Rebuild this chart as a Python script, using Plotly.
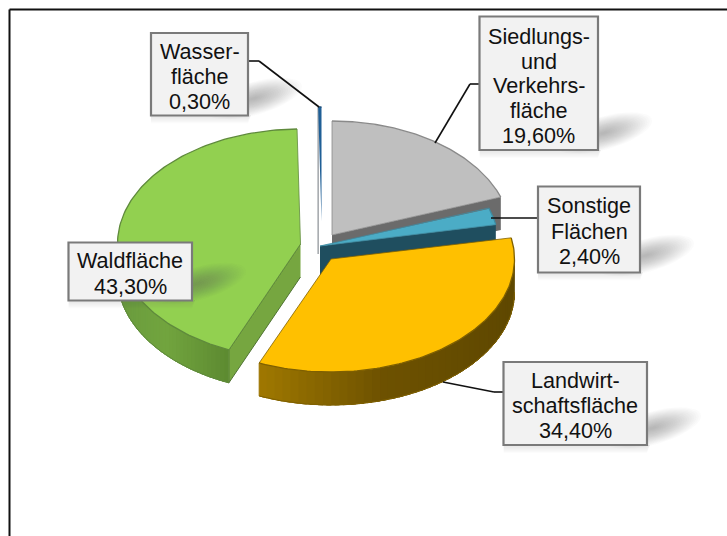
import numpy as np
import plotly.graph_objects as go

# ---- data ----
categories = ["Siedlungs- und Verkehrsfläche", "Sonstige Flächen", "Landwirtschaftsfläche", "Waldfläche", "Wasserfläche"]
values = [19.6, 2.4, 34.4, 43.3, 0.3]
label_lines = [
    ["Siedlungs-", "und", "Verkehrs-", "fläche", "19,60%"],
    ["Sonstige", "Flächen", "2,40%"],
    ["Landwirt-", "schaftsfläche", "34,40%"],
    ["Waldfläche", "43,30%"],
    ["Wasser-", "fläche", "0,30%"],
]

# ---- geometry / style ----
W, H = 727, 536
DEPTH = 33
centers = [(332, 235), (320, 246), (331, 259), (300.5, 244), (321.5, 221)]
radii = [(179, 114), (179, 114), (183.5, 113), (183, 115), (179, 114)]
top_col = ["#BFBFBF", "#4BACC6", "#FFC000", "#92D050", "#1F5F96"]
rim_col = ["#8A8A8A", "#3E8CA2", "#7F6000", "#5F8A3C", "#1F4E79"]
cut_col = ["#6B6B6B", "#1F4E5F", None, "#76A640", "#777777"]
wall_stops = {
    2: [(259, "#A07800"), (300, "#8E6B00"), (380, "#6E5200"), (514, "#5F4800")],
    3: [(116, "#6A9B3E"), (165, "#72A53F"), (228, "#5D8A31")],
}
boxes = [(479.5, 16.5, 598, 150), (538, 186.5, 640, 272.5), (503.5, 362, 647, 445),
         (68.5, 242.5, 192, 300.5), (151, 33, 248, 115.5)]
line_gap = [24.7, 25.5, 25, 26, 25]
text_cy = [85.8, 231, 405, 273, 76.5]
leaders = [
    [(479, 84), (470, 84), (435, 143)],
    [(538, 218), (491, 218)],
    [(503, 392), (494, 392), (443, 382)],
    [(248, 61), (259, 61), (319, 107)],
]
TEXT = "#111111"

cum = np.concatenate([[0], np.cumsum(values)]) / np.sum(values) * 2 * np.pi


def rim(i, a, b, n=120):
    t = np.linspace(a, b, n)
    cx, cy = centers[i]
    rx, ry = radii[i]
    return cx + rx * np.sin(t), cy - ry * np.cos(t)


def hexmix(stops, x):
    xs = [s[0] for s in stops]
    rgb = [[int(s[1][k:k + 2], 16) for k in (1, 3, 5)] for s in stops]
    return "rgb(%d,%d,%d)" % tuple(np.interp(x, xs, [c[k] for c in rgb]) for k in range(3))


fig = go.Figure()


def poly(x, y, fill, line=None, width=1, seam=0.0):
    lw = width if line else seam
    fig.add_trace(go.Scatter(x=list(x), y=list(y), mode="lines", fill="toself", fillcolor=fill,
                             line=dict(color=line or fill, width=lw),
                             hoverinfo="skip", showlegend=False))


def line(x, y, color, width=1):
    fig.add_trace(go.Scatter(x=list(x), y=list(y), mode="lines", line=dict(color=color, width=width),
                             hoverinfo="skip", showlegend=False))


def slice_draw(i):
    a, b = cum[i], cum[i + 1]
    cx, cy = centers[i]
    if i in (0, 1):
        x, y = rim(i, b, b, 1)
        poly([cx, x[0], x[0], cx], [cy, y[0], y[0] + DEPTH, cy + DEPTH], cut_col[i])
    if i == 3:
        x, y = rim(i, a, a, 1)
        poly([cx, x[0], x[0], cx], [cy, y[0], y[0] + DEPTH, cy + DEPTH], cut_col[i], "#4F7332", 1)
    if i == 4:
        x, y = rim(i, a, a, 1)
        line([x[0], x[0]], [y[0], cy + DEPTH], "#8A8F94", 1.2)
    lo, hi = max(a, np.pi / 2), min(b, 3 * np.pi / 2)
    if lo < hi and i in wall_stops:
        edges = np.linspace(lo, hi, 45)
        step = edges[1] - edges[0]
        for e0 in edges[:-1]:
            x, y = rim(i, e0, min(e0 + step * 1.6, hi), 4)
            poly(np.r_[x, x[::-1]], np.r_[y, y[::-1] + DEPTH], hexmix(wall_stops[i], x.mean()), seam=1.0)
        x, y = rim(i, lo, hi)
        line(x, y + DEPTH, rim_col[i], 1)
    x, y = rim(i, a, b)
    poly(np.r_[cx, x, cx], np.r_[cy, y, cy], top_col[i])
    line(x, y, rim_col[i], 1.3)
    if i != 4:
        line([x[-1], cx, x[0]], [y[-1], cy, y[0]], rim_col[i], 0.8)


def shadow(box):
    x0, y0, x1, y1 = box
    t = np.linspace(0, 2 * np.pi, 40)
    for k in np.linspace(1, 0.08, 20):
        ex, ey = 48 * k, 17 * k
        px = x1 + 6 + ex * np.cos(t)
        py = y1 - 17 + ey * np.sin(t) - 0.25 * ex * np.cos(t)
        poly(px, py, "rgba(90,90,90,0.024)")
    for k in np.linspace(1, 0.3, 7):
        cx = (x0 + x1) / 2
        hw = (x1 - x0) / 2
        poly([cx - hw, cx + hw + 3, cx + hw, cx - hw], [y1, y1, y1 + 8 * k, y1 + 8 * k], "rgba(120,120,120,0.02)")


for i in (3, 4, 0, 1, 2):
    slice_draw(i)
for b in boxes:
    shadow(b)

shapes = [
    dict(type="line", x0=9.5, x1=W, y0=9.5, y1=9.5, line=dict(color="#111111", width=2), layer="above"),
    dict(type="line", x0=9.5, x1=9.5, y0=9.5, y1=H, line=dict(color="#111111", width=2), layer="above"),
]
for pts in leaders:
    for p, q in zip(pts[:-1], pts[1:]):
        shapes.append(dict(type="line", x0=p[0], y0=p[1], x1=q[0], y1=q[1], line=dict(color="#111111", width=1.6)))
for b in boxes:
    shapes.append(dict(type="rect", x0=b[0], y0=b[1], x1=b[2], y1=b[3], fillcolor="#F2F2F2",
                       line=dict(color="#7A7A7A", width=2.2)))

annotations = []
for lines, b, gap, cy in zip(label_lines, boxes, line_gap, text_cy):
    xc = (b[0] + b[2]) / 2
    for j, s in enumerate(lines):
        annotations.append(dict(x=xc, y=cy + (j - (len(lines) - 1) / 2) * gap, text=s, showarrow=False,
                                xanchor="center", yanchor="middle",
                                font=dict(family="Liberation Sans", size=21.6, color=TEXT)))

fig.update_layout(
    width=W, height=H, autosize=False, margin=dict(l=0, r=0, t=0, b=0),
    paper_bgcolor="white", plot_bgcolor="white", showlegend=False,
    xaxis=dict(range=[0, W], visible=False, fixedrange=True),
    yaxis=dict(range=[H, 0], visible=False, fixedrange=True),
    shapes=shapes, annotations=annotations,
)
fig.write_html("out.html", config={"displayModeBar": False}, default_width=W, default_height=H,
               post_script="document.body.style.margin='0';document.documentElement.style.overflow='hidden';")
